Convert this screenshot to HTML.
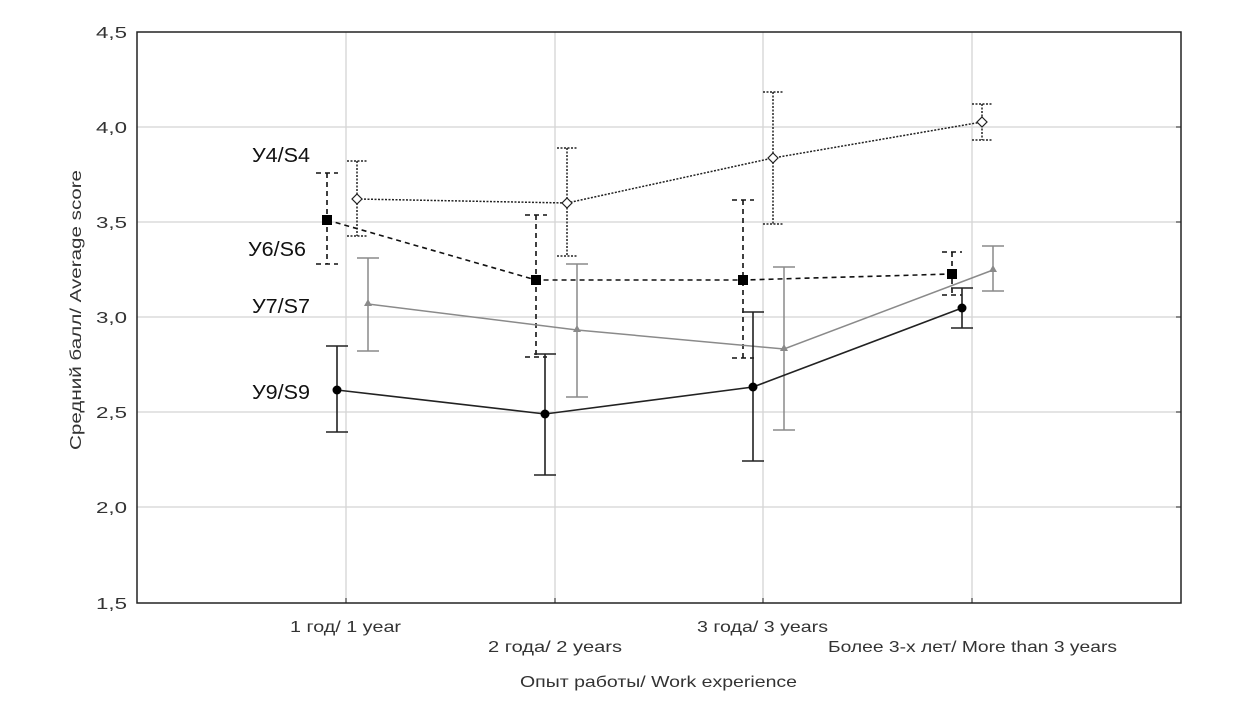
<!DOCTYPE html><html><head><style>body{margin:0;background:#fff}svg{display:block}</style></head><body>
<svg width="1237" height="721" xmlns="http://www.w3.org/2000/svg" font-family="Liberation Sans, sans-serif">
<rect width="1237" height="721" fill="#fff"/>
<g stroke="#d4d4d4" stroke-width="1.3">
<line x1="137" x2="1181" y1="127" y2="127"/><line x1="137" x2="1181" y1="222" y2="222"/><line x1="137" x2="1181" y1="317" y2="317"/><line x1="137" x2="1181" y1="412" y2="412"/><line x1="137" x2="1181" y1="507" y2="507"/>
<line x1="346" x2="346" y1="32" y2="603"/><line x1="555" x2="555" y1="32" y2="603"/><line x1="763" x2="763" y1="32" y2="603"/><line x1="972" x2="972" y1="32" y2="603"/>
</g>
<rect x="137" y="32" width="1044" height="571" fill="none" stroke="#222" stroke-width="1.5"/>
<g stroke="#222" stroke-width="1"><line x1="1176" x2="1181" y1="127" y2="127"/><line x1="1176" x2="1181" y1="222" y2="222"/><line x1="1176" x2="1181" y1="317" y2="317"/><line x1="1176" x2="1181" y1="412" y2="412"/><line x1="1176" x2="1181" y1="507" y2="507"/>
<line x1="346" x2="346" y1="598" y2="603"/><line x1="555" x2="555" y1="598" y2="603"/><line x1="763" x2="763" y1="598" y2="603"/><line x1="972" x2="972" y1="598" y2="603"/></g>
<g font-size="16" fill="#333">
<text x="96" y="38" textLength="31" lengthAdjust="spacingAndGlyphs">4,5</text><text x="96" y="133" textLength="31" lengthAdjust="spacingAndGlyphs">4,0</text><text x="96" y="228" textLength="31" lengthAdjust="spacingAndGlyphs">3,5</text><text x="96" y="323" textLength="31" lengthAdjust="spacingAndGlyphs">3,0</text><text x="96" y="418" textLength="31" lengthAdjust="spacingAndGlyphs">2,5</text><text x="96" y="513" textLength="31" lengthAdjust="spacingAndGlyphs">2,0</text><text x="96" y="609" textLength="31" lengthAdjust="spacingAndGlyphs">1,5</text></g>
<g font-size="16" fill="#333">
<text x="290" y="632" textLength="111" lengthAdjust="spacingAndGlyphs">1 год/ 1 year</text>
<text x="488" y="652" textLength="134" lengthAdjust="spacingAndGlyphs">2 года/ 2 years</text>
<text x="697" y="632" textLength="131" lengthAdjust="spacingAndGlyphs">3 года/ 3 years</text>
<text x="828" y="652" textLength="289" lengthAdjust="spacingAndGlyphs">Более 3-х лет/ More than 3 years</text>
<text x="520" y="687" textLength="277" lengthAdjust="spacingAndGlyphs">Опыт работы/ Work experience</text>
<text transform="translate(81,450) rotate(-90)" textLength="280" lengthAdjust="spacingAndGlyphs">Средний балл/ Average score</text></g>
<g font-size="20" fill="#111" font-family="Liberation Sans, DejaVu Sans, sans-serif">
<text x="252" y="162" textLength="58" lengthAdjust="spacingAndGlyphs">У4/S4</text><text x="248" y="256" textLength="58" lengthAdjust="spacingAndGlyphs">У6/S6</text><text x="252" y="313" textLength="58" lengthAdjust="spacingAndGlyphs">У7/S7</text><text x="252" y="399" textLength="58" lengthAdjust="spacingAndGlyphs">У9/S9</text></g>
<!-- S4 -->
<g stroke="#222" stroke-width="1.5" stroke-dasharray="2,1.5" fill="none">
<polyline points="357,199 567,203 773,158 982,122"/>
<path d="M357,161V236M347,161H367M347,236H367M567,148V256M557,148H577M557,256H577M773,92V224M763,92H783M763,224H783M982,104V140M972,104H992M972,140H992"/></g>
<g fill="#fff" stroke="#222" stroke-width="1.2"><path d="M357,194l5,5-5,5-5-5z"/><path d="M567,198l5,5-5,5-5-5z"/><path d="M773,153l5,5-5,5-5-5z"/><path d="M982,117l5,5-5,5-5-5z"/></g>
<!-- S6 -->
<g stroke="#111" stroke-width="1.6" stroke-dasharray="5,4" fill="none">
<polyline points="327,220 536,280 743,280 952,274"/>
<path d="M327,173V264M316,173H338M316,264H338M536,215V357M525,215H547M525,357H547M743,200V358M732,200H754M732,358H754M952,252V295M942,252H962M942,295H962"/></g>
<g fill="#000"><rect x="322" y="215" width="10" height="10"/><rect x="531" y="275" width="10" height="10"/><rect x="738" y="275" width="10" height="10"/><rect x="947" y="269" width="10" height="10"/></g>
<!-- S7 -->
<g stroke="#8a8a8a" stroke-width="1.5" fill="none">
<polyline points="368,304 577,330 784,349 993,270"/>
<path d="M368,258V351M357,258H379M357,351H379M577,264V397M566,264H588M566,397H588M784,267V430M773,267H795M773,430H795M993,246V291M982,246H1004M982,291H1004"/></g>
<g fill="#8a8a8a"><path d="M368,299l4,7h-8z"/><path d="M577,325l4,7h-8z"/><path d="M784,344l4,7h-8z"/><path d="M993,265l4,7h-8z"/></g>
<!-- S9 -->
<g stroke="#222" stroke-width="1.6" fill="none">
<polyline points="337,390 545,414 753,387 962,308"/>
<path d="M337,346V432M326,346H348M326,432H348M545,354V475M534,354H556M534,475H556M753,312V461M742,312H764M742,461H764M962,288V328M951,288H973M951,328H973"/></g>
<g fill="#000"><circle cx="337" cy="390" r="4.5"/><circle cx="545" cy="414" r="4.5"/><circle cx="753" cy="387" r="4.5"/><circle cx="962" cy="308" r="4.5"/></g>
</svg></body></html>
